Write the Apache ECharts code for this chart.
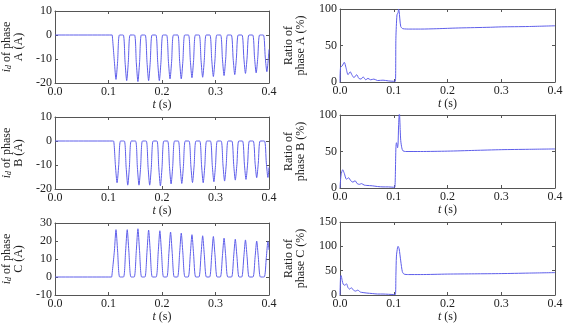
<!DOCTYPE html>
<html>
<head>
<meta charset="utf-8">
<script src="https://cdn.jsdelivr.net/npm/echarts@6/dist/echarts.min.js"></script>
<style>
  html, body { margin: 0; padding: 0; background: #fff; }
  #chart { width: 568px; height: 325px; }
</style>
</head>
<body>
<div id="chart"></div>
<script>
// i_d of phase A (A) -- [t, value]
const idA = [
  [0, 0], [0.107, 0],
  [0.1075, 0], [0.111, -11.1], [0.114, -18.5], [0.117, -11.1], [0.1205, 0],
  [0.1275, 0], [0.131, -11.4], [0.134, -19], [0.137, -11.4], [0.1405, 0],
  [0.1485, 0], [0.152, -11.6], [0.155, -19.4], [0.158, -11.6], [0.1615, 0],
  [0.1685, 0], [0.172, -11.4], [0.175, -19], [0.178, -11.4], [0.1815, 0],
  [0.1885, 0], [0.192, -11.4], [0.195, -19], [0.198, -11.4], [0.2015, 0],
  [0.2085, 0], [0.212, -11], [0.215, -18.3], [0.218, -11], [0.2215, 0],
  [0.2295, 0], [0.233, -11], [0.236, -18.3], [0.239, -11], [0.2425, 0],
  [0.2495, 0], [0.253, -10.7], [0.256, -17.8], [0.259, -10.7], [0.2625, 0],
  [0.2695, 0], [0.273, -10.6], [0.276, -17.6], [0.279, -10.6], [0.2825, 0],
  [0.2895, 0], [0.293, -10.4], [0.296, -17.3], [0.299, -10.4], [0.3025, 0],
  [0.3095, 0], [0.313, -10.1], [0.316, -16.9], [0.319, -10.1], [0.3225, 0],
  [0.3295, 0], [0.333, -9.9], [0.336, -16.5], [0.339, -9.9], [0.3425, 0],
  [0.3495, 0], [0.353, -9.6], [0.356, -16], [0.359, -9.6], [0.3625, 0],
  [0.3695, 0], [0.373, -9.5], [0.376, -15.8], [0.379, -9.5], [0.3825, 0],
  [0.3895, 0], [0.393, -9.2], [0.396, -15.3], [0.399, -9.2], [0.4, -6]
];

// i_d of phase B (A)
const idB = [
  [0, 0], [0.108, 0],
  [0.1095, 0], [0.113, -10.4], [0.116, -17.4], [0.119, -10.4], [0.1225, 0],
  [0.1295, 0], [0.133, -11], [0.136, -18.4], [0.139, -11], [0.1425, 0],
  [0.1505, 0], [0.154, -11], [0.157, -18.4], [0.16, -11], [0.1635, 0],
  [0.1705, 0], [0.174, -11], [0.177, -18.4], [0.18, -11], [0.1835, 0],
  [0.1905, 0], [0.194, -11.2], [0.197, -18.7], [0.2, -11.2], [0.2035, 0],
  [0.2105, 0], [0.214, -10.7], [0.217, -17.9], [0.22, -10.7], [0.2235, 0],
  [0.2305, 0], [0.234, -10.6], [0.237, -17.7], [0.24, -10.6], [0.2435, 0],
  [0.2505, 0], [0.254, -10.4], [0.257, -17.3], [0.26, -10.4], [0.2635, 0],
  [0.2705, 0], [0.274, -10.4], [0.277, -17.4], [0.28, -10.4], [0.2835, 0],
  [0.2905, 0], [0.294, -10.2], [0.297, -17], [0.3, -10.2], [0.3035, 0],
  [0.3105, 0], [0.314, -10], [0.317, -16.7], [0.32, -10], [0.3235, 0],
  [0.3305, 0], [0.334, -9.8], [0.337, -16.3], [0.34, -9.8], [0.3435, 0],
  [0.3505, 0], [0.354, -9.6], [0.357, -16], [0.36, -9.6], [0.3635, 0],
  [0.3705, 0], [0.374, -9.2], [0.377, -15.3], [0.38, -9.2], [0.3835, 0],
  [0.3915, 0], [0.395, -9.1], [0.398, -15.2], [0.4, -11]
];

// i_d of phase C (A)
const idC = [
  [0, 0], [0.106, 0],
  [0.107, 0], [0.111, 14.5], [0.114, 26.3], [0.117, 14.5], [0.121, 0],
  [0.128, 0], [0.132, 14.5], [0.135, 26.3], [0.138, 14.5], [0.142, 0],
  [0.148, 0], [0.152, 14.7], [0.155, 26.8], [0.158, 14.7], [0.162, 0],
  [0.168, 0], [0.172, 14.4], [0.175, 26.1], [0.178, 14.4], [0.182, 0],
  [0.189, 0], [0.193, 14.1], [0.196, 25.7], [0.199, 14.1], [0.203, 0],
  [0.209, 0], [0.213, 13.8], [0.216, 25], [0.219, 13.8], [0.223, 0],
  [0.229, 0], [0.233, 13.4], [0.236, 24.4], [0.239, 13.4], [0.243, 0],
  [0.249, 0], [0.253, 12.9], [0.256, 23.5], [0.259, 12.9], [0.263, 0],
  [0.269, 0], [0.273, 12.6], [0.276, 22.9], [0.279, 12.6], [0.283, 0],
  [0.289, 0], [0.293, 12.4], [0.296, 22.5], [0.299, 12.4], [0.303, 0],
  [0.309, 0], [0.313, 11.9], [0.316, 21.6], [0.319, 11.9], [0.323, 0],
  [0.330, 0], [0.334, 11.6], [0.337, 21], [0.340, 11.6], [0.344, 0],
  [0.349, 0], [0.353, 11.3], [0.356, 20.6], [0.359, 11.3], [0.363, 0],
  [0.370, 0], [0.374, 11], [0.377, 20], [0.380, 11], [0.384, 0],
  [0.391, 0], [0.395, 10.8], [0.398, 19.7], [0.4, 15]
];

// Ratio of phase A (%)
const ratioA = [
  [0, 0], [0.001, 20], [0.004, 22], [0.008, 27], [0.011, 20], [0.015, 10], [0.019, 14],
  [0.022, 10], [0.026, 6], [0.031, 10], [0.035, 5], [0.039, 4], [0.043, 7], [0.048, 3],
  [0.052, 5], [0.057, 3], [0.063, 4], [0.07, 2], [0.08, 2.5], [0.09, 1.5], [0.1, 1],
  [0.103, 1], [0.104, 60], [0.106, 92], [0.108, 95], [0.109, 100], [0.11, 97],
  [0.113, 76], [0.117, 73], [0.13, 72.5], [0.15, 72.5], [0.18, 73], [0.2, 73.5],
  [0.22, 74], [0.25, 74.5], [0.28, 75], [0.3, 75.5], [0.35, 76], [0.4, 77]
];

// Ratio of phase B (%)
const ratioB = [
  [0, 0], [0.002, 18], [0.005, 25], [0.008, 20], [0.012, 12], [0.016, 14], [0.02, 10],
  [0.024, 8], [0.028, 10], [0.032, 6], [0.036, 5], [0.04, 6], [0.045, 4], [0.05, 3.5],
  [0.06, 3], [0.07, 2], [0.08, 1.5], [0.09, 1.5], [0.1, 1], [0.102, 1], [0.104, 55],
  [0.105, 62], [0.106, 60], [0.107, 55], [0.108, 60], [0.109, 85], [0.1105, 104],
  [0.112, 80], [0.113, 65], [0.115, 55], [0.117, 51], [0.122, 50], [0.15, 50],
  [0.2, 50.5], [0.25, 51.5], [0.3, 52.5], [0.35, 53], [0.4, 53.5]
];

// Ratio of phase C (%)
const ratioC = [
  [0, 0], [0.001, 38], [0.002, 40], [0.004, 30], [0.006, 22], [0.009, 20], [0.012, 23],
  [0.015, 15], [0.018, 12], [0.021, 15], [0.025, 10], [0.029, 8], [0.033, 10], [0.038, 6],
  [0.043, 5], [0.05, 4], [0.06, 3], [0.07, 2], [0.08, 2], [0.09, 1.5], [0.1, 1],
  [0.103, 1], [0.104, 40], [0.105, 80], [0.107, 97], [0.108, 100], [0.11, 95],
  [0.113, 70], [0.116, 48], [0.119, 43], [0.127, 42], [0.15, 42], [0.2, 43],
  [0.25, 43.5], [0.3, 44], [0.35, 45], [0.4, 46]
];

const tLimits = [0, 0.4, 0.1];
const idLimitsAB = [-20, 10, 10];
const idLimitsC = [-10, 30, 10];
const ratioLimitsAB = [0, 100, 50];
const ratioLimitsC = [0, 150, 50];

const FONT = 'Liberation Serif';
const TXT = '#222';
const AX = '#555';
const LINE = '#5e5eea';

const rich = {
  it: { fontFamily: FONT, fontStyle: 'italic', fontSize: 12, color: TXT, lineHeight: 12 },
  sub: { fontFamily: FONT, fontStyle: 'italic', fontSize: 8, color: TXT, verticalAlign: 'bottom', lineHeight: 12 },
  n: { fontFamily: FONT, fontSize: 12, color: TXT, lineHeight: 12 }
};

// grid boxes: left column / right column, 3 rows
const panels = [
  { data: idA, lim: idLimitsAB, box: [47, 11, 222, 72], yName: '{it|i}{sub|d}{n| of phase}\n{n|A (A)}', gap: 30 },
  { data: ratioA, lim: ratioLimitsAB, box: [340, 9, 215, 73], yName: '{n|Ratio of}\n{n|phase A (%)}', gap: 33 },
  { data: idB, lim: idLimitsAB, box: [47, 117, 222, 72], yName: '{it|i}{sub|d}{n| of phase}\n{n|B (A)}', gap: 30 },
  { data: ratioB, lim: ratioLimitsAB, box: [340, 115, 215, 73], yName: '{n|Ratio of}\n{n|phase B (%)}', gap: 33 },
  { data: idC, lim: idLimitsC, box: [47, 223, 222, 72], yName: '{it|i}{sub|d}{n| of phase}\n{n|C (A)}', gap: 30 },
  { data: ratioC, lim: ratioLimitsC, box: [340, 222, 215, 73], yName: '{n|Ratio of}\n{n|phase C (%)}', gap: 33 }
];

const grid = [], xAxis = [], yAxis = [], series = [];
const lineStyle = { color: AX, width: 1 };

panels.forEach((p, i) => {
  grid.push({ left: p.box[0], top: p.box[1], width: p.box[2], height: p.box[3] });

  // bottom (labelled) and top (ticks only) x axes
  xAxis.push({
    type: 'value', gridIndex: i, position: 'bottom',
    min: tLimits[0], max: tLimits[1], interval: tLimits[2],
    axisLine: { onZero: false, lineStyle },
    axisTick: { inside: true, length: 3, lineStyle },
    axisLabel: { formatter: v => v.toFixed(1), color: TXT, fontFamily: FONT, fontSize: 12, margin: 3 },
    splitLine: { show: false },
    name: '{it|t}{n| (s)}', nameLocation: 'middle', nameGap: 14,
    nameTextStyle: { rich }
  });
  xAxis.push({
    type: 'value', gridIndex: i, position: 'top',
    min: tLimits[0], max: tLimits[1], interval: tLimits[2],
    axisLine: { onZero: false, lineStyle },
    axisTick: { inside: true, length: 3, lineStyle },
    axisLabel: { show: false },
    splitLine: { show: false }
  });

  yAxis.push({
    type: 'value', gridIndex: i, position: 'left',
    min: p.lim[0], max: p.lim[1], interval: p.lim[2],
    axisLine: { show: true, onZero: false, lineStyle },
    axisTick: { show: true, inside: true, length: 3, lineStyle },
    axisLabel: { color: TXT, fontFamily: FONT, fontSize: 12, margin: 3 },
    splitLine: { show: false },
    name: p.yName, nameLocation: 'middle', nameRotate: 90, nameGap: p.gap,
    nameTextStyle: { rich, lineHeight: 12 }
  });
  yAxis.push({
    type: 'value', gridIndex: i, position: 'right',
    min: p.lim[0], max: p.lim[1], interval: p.lim[2],
    axisLine: { show: true, onZero: false, lineStyle },
    axisTick: { show: true, inside: true, length: 3, lineStyle },
    axisLabel: { show: false },
    splitLine: { show: false }
  });

  series.push({
    type: 'line', xAxisIndex: 2 * i, yAxisIndex: 2 * i,
    data: p.data, showSymbol: false, symbol: 'none',
    smooth: 0.25, clip: true,
    lineStyle: { color: LINE, width: 1 },
    animation: false
  });
});

const chart = echarts.init(document.getElementById('chart'), null, { renderer: 'canvas' });
chart.setOption({ animation: false, grid, xAxis, yAxis, series });
</script>
</body>
</html>
